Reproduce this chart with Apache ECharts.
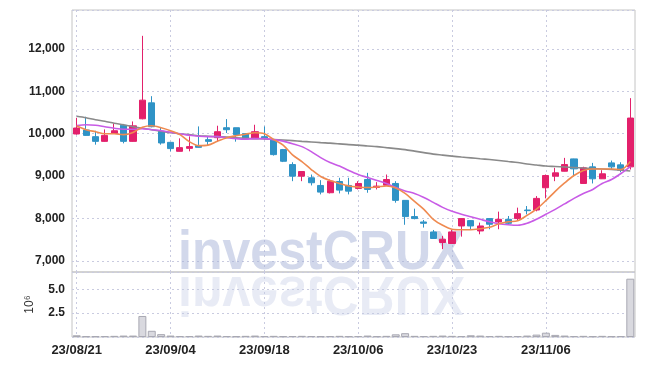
<!DOCTYPE html>
<html><head><meta charset="utf-8">
<script src="https://cdn.jsdelivr.net/npm/echarts@6/dist/echarts.min.js"></script>
<style>html,body{margin:0;padding:0;background:#fff}#c{width:645px;height:366px}</style>
</head><body><div id="c"></div>
<script>
const dates = ['23/08/21','23/08/22','23/08/23','23/08/24','23/08/25','23/08/28','23/08/29','23/08/30','23/08/31','23/09/01',
'23/09/04','23/09/05','23/09/06','23/09/07','23/09/08','23/09/11','23/09/12','23/09/13','23/09/14','23/09/15',
'23/09/18','23/09/19','23/09/20','23/09/21','23/09/22','23/09/25','23/09/26','23/09/27','23/10/04','23/10/05',
'23/10/06','23/10/10','23/10/11','23/10/12','23/10/13','23/10/16','23/10/17','23/10/18','23/10/19','23/10/20',
'23/10/23','23/10/24','23/10/25','23/10/26','23/10/27','23/10/30','23/10/31','23/11/01','23/11/02','23/11/03',
'23/11/06','23/11/07','23/11/08','23/11/09','23/11/10','23/11/13','23/11/14','23/11/15','23/11/16','23/11/17'];
const opens = [9993,10087,9930,9819,10007,10200,9819,10352,10728,10054,
9796,9584,9654,9718,9859,9906,10141,10141,10000,9882,
9930,9859,9624,9271,8997,8959,8778,8606,8872,8778,
8708,8919,8731,8785,8825,8426,8043,7916,7680,7431,
7408,7822,7948,7704,7996,7916,7979,7996,8198,8198,
8724,8997,9114,9405,8825,9217,8935,9311,9264,9217];
const closes = [10134,9960,9819,9960,10070,9819,10185,10792,10165,9781,
9648,9671,9695,9678,9819,10047,10094,9977,9874,10047,
9894,9506,9349,8997,9107,8842,8621,8879,8668,8644,
8825,8684,8762,8919,8426,8043,7996,7885,7526,7509,
7681,7996,7822,7822,7862,7979,7885,8113,8183,8473,
9013,9076,9271,9170,9194,8935,9053,9217,9138,10369];
const lows = [9977,9950,9741,9810,10000,9772,9810,10340,10150,9741,
9584,9580,9584,9670,9718,9812,10016,9812,9860,9875,
9859,9483,9330,8879,8879,8778,8567,8590,8590,8567,
8684,8606,8684,8780,8371,7850,7979,7784,7520,7274,
7400,7570,7744,7626,7744,7744,7862,7939,8096,8167,
8473,8879,9110,8997,8820,8825,8930,9154,9091,9154];
const highs = [10375,10400,10070,10101,10242,10230,10289,12310,10886,10134,
9800,9890,9937,10172,9937,10188,10345,10141,10010,10211,
10172,9870,9640,9326,9110,9036,8903,8919,8959,8959,
8879,9076,8856,9036,8879,8430,8230,7963,7727,7586,
7730,8000,7955,7901,8000,8160,8057,8254,8292,8527,
9036,9194,9429,9410,9220,9311,9138,9366,9326,10839];
const ma5 = [10188,10094,10047,10000,10000,9977,10030,10153,10188,10141,
10071,9977,9812,9718,9730,9824,9906,9953,9988,10024,
10000,9859,9730,9500,9342,9154,8990,8896,8825,8766,
8743,8731,8743,8766,8719,8590,8402,8214,7979,7838,
7744,7732,7732,7756,7791,7873,7920,7944,8073,8220,
8420,8640,8837,9013,9130,9166,9166,9166,9154,9342];
const ma10 = [10195,10212,10200,10165,10129,10106,10106,10118,10094,10071,
10035,10000,9965,9941,9930,9930,9906,9883,9871,9883,
9883,9859,9824,9765,9695,9577,9436,9319,9236,9131,
9037,8966,8896,8825,8731,8649,8590,8496,8379,8261,
8167,8097,8038,7979,7920,7873,7850,7838,7885,7979,
8097,8214,8343,8473,8590,8684,8825,8919,9060,9225];
const ma60 = [10411,10376,10329,10294,10247,10212,10165,10129,10094,10059,
10024,10000,9977,9953,9941,9930,9918,9906,9894,9883,
9875,9864,9852,9836,9819,9805,9789,9777,9760,9742,
9730,9711,9695,9671,9648,9624,9589,9554,9518,9495,
9471,9448,9429,9408,9389,9366,9342,9319,9283,9260,
9236,9225,9213,9201,9189,9178,9166,9154,9142,9119];
const volumes = [0.18,0.08,0.08,0.1,0.12,0.15,0.15,2.2,0.65,0.3,
0.15,0.1,0.1,0.15,0.12,0.15,0.1,0.08,0.12,0.15,
0.1,0.12,0.08,0.1,0.12,0.1,0.08,0.1,0.12,0.08,
0.1,0.15,0.08,0.12,0.28,0.4,0.12,0.1,0.12,0.15,
0.12,0.1,0.18,0.15,0.1,0.12,0.08,0.1,0.15,0.25,
0.45,0.22,0.15,0.1,0.12,0.08,0.12,0.08,0.1,6.1];

const FONT = '"Liberation Sans", Arial, sans-serif';
const gridLine = {show: true, lineStyle: {color: '#c9cbe0', type: [2, 3], width: 1}};
const tickEvery = (i) => i % 10 === 0;

const chart = echarts.init(document.getElementById('c'), null, {renderer: 'canvas'});
chart.setOption({
  animation: false,
  backgroundColor: '#fff',
  grid: [
    {left: 72, right: 10, top: 10, height: 262, show: true, borderColor: '#c4c4c4', borderWidth: 1},
    {left: 72, right: 10, top: 272, height: 65, show: true, borderColor: '#c4c4c4', borderWidth: 1}
  ],
  xAxis: [
    {gridIndex: 0, type: 'category', data: dates, boundaryGap: true,
      axisLine: {show: false}, axisTick: {show: false, alignWithLabel: true}, axisLabel: {show: false},
      splitLine: Object.assign({interval: tickEvery, alignWithLabel: true}, gridLine)},
    {gridIndex: 1, type: 'category', data: dates, boundaryGap: true,
      axisLine: {show: false}, axisTick: {show: false, alignWithLabel: true},
      axisLabel: {show: true, interval: tickEvery, color: '#222', fontSize: 13, fontWeight: 'bold', fontFamily: FONT, margin: 7},
      splitLine: Object.assign({interval: tickEvery, alignWithLabel: true}, gridLine)}
  ],
  yAxis: [
    {gridIndex: 0, type: 'value', min: 6735, max: 12920,
      axisLine: {show: false}, axisTick: {show: false},
      axisLabel: {showMinLabel: false, showMaxLabel: false, color: '#222', fontSize: 12, fontWeight: 'bold', fontFamily: FONT, margin: 7,
        formatter: v => v.toLocaleString('en-US')},
      splitLine: gridLine},
    {gridIndex: 1, type: 'value', min: 0, max: 6.8, interval: 2.5,
      name: '10\u2076', nameLocation: 'middle', nameRotate: 90, nameGap: 36,
      nameTextStyle: {color: '#333', fontSize: 12, fontFamily: FONT},
      axisLine: {show: false}, axisTick: {show: false},
      axisLabel: {showMinLabel: false, showMaxLabel: false, color: '#222', fontSize: 12, fontWeight: 'bold', fontFamily: FONT, margin: 7,
        formatter: v => v.toFixed(1)},
      splitLine: gridLine}
  ],
  graphic: [
    {type: 'text', x: 178, y: 254, scaleX: 0.91, z: 1, silent: true,
      style: {text: 'investCRUX', fontSize: 55, fontWeight: 'bold', fontFamily: FONT, fill: 'rgba(165,177,216,0.5)', verticalAlign: 'middle'}},
    {type: 'text', x: 178, y: 292, scaleX: 0.91, scaleY: -1, z: 1, silent: true,
      style: {text: 'investCRUX', fontSize: 55, fontWeight: 'bold', fontFamily: FONT, fill: 'rgba(198,204,229,0.4)', verticalAlign: 'middle'}}
  ],
  series: [
    {type: 'candlestick', xAxisIndex: 0, yAxisIndex: 0, barWidth: '70%',
      data: dates.map((d, i) => [opens[i], closes[i], lows[i], highs[i]]),
      itemStyle: {color: '#e3206b', color0: '#2f93c6', borderColor: '#e3206b', borderColor0: '#2f93c6', borderWidth: 1}},
    {type: 'line', xAxisIndex: 0, yAxisIndex: 0, data: ma60, smooth: 0.3, symbol: 'none',
      lineStyle: {color: '#8a8a8a', width: 1.6}},
    {type: 'line', xAxisIndex: 0, yAxisIndex: 0, data: ma10, smooth: 0.3, symbol: 'none',
      lineStyle: {color: '#c85be6', width: 1.6}},
    {type: 'line', xAxisIndex: 0, yAxisIndex: 0, data: ma5, smooth: 0.3, symbol: 'none',
      lineStyle: {color: '#ef8a50', width: 1.6}},
    {type: 'bar', xAxisIndex: 1, yAxisIndex: 1, data: volumes, barWidth: '85%',
      itemStyle: {color: '#d9d9df', borderColor: '#a8a8b2', borderWidth: 1}}
  ]
});
</script>
</body></html>
